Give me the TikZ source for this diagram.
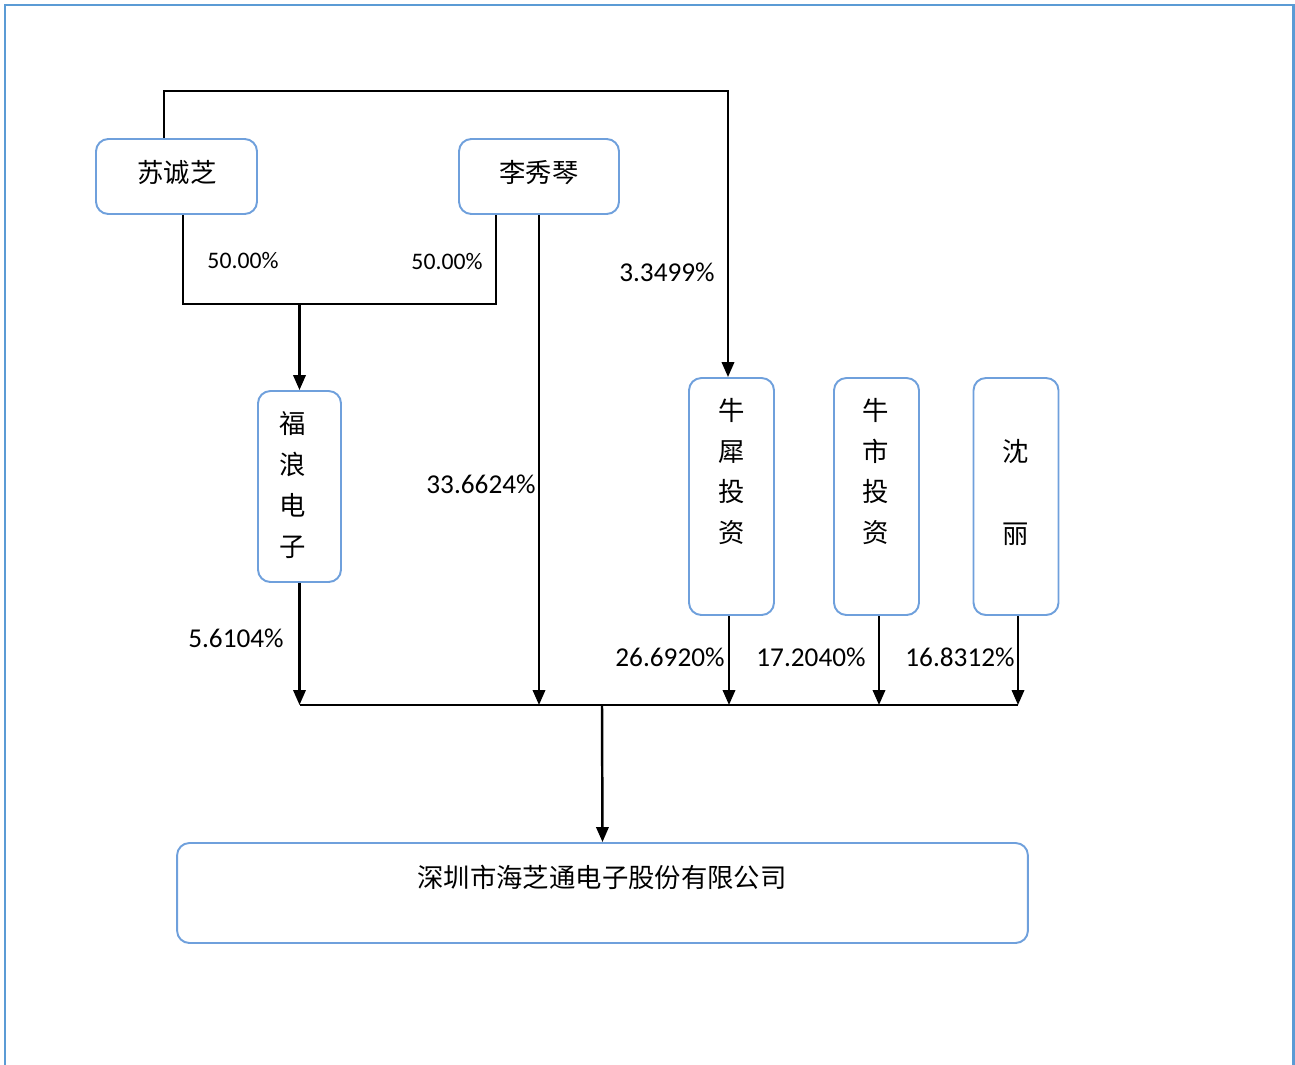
\documentclass[tikz,border=0pt]{standalone}
\usepackage{fontspec}
\setmainfont{Carlito}
\newfontfamily\cjk{Noto Sans CJK SC}
\usepackage{xcolor}
\usetikzlibrary{arrows.meta,positioning}
\definecolor{framebl}{RGB}{91,155,213}
\definecolor{boxbl}{RGB}{111,160,220}

\begin{document}
\begin{tikzpicture}
		[x=0.02cm,y=-0.02cm,
		hbox/.style={draw=boxbl,line width=1.1pt,rounded corners=7pt,font=\cjk\fontsize{15pt}{18pt}\selectfont,inner sep=0pt},
		vbox/.style={draw=boxbl,line width=1.1pt,rounded corners=7pt,minimum width=1.7cm,minimum height=4.74cm,inner sep=0pt},
		vtext/.style={align=center,inner sep=0pt,font=\cjk\fontsize{15pt}{23.2pt}\selectfont},
		link/.style={line width=1.4pt},
		arr/.style={line width=1.4pt,-{Triangle[length=8.5pt,width=7pt]}},
		pct/.style={inner sep=0pt,font=\fontsize{15.5pt}{18pt}\selectfont},
		half/.style={inner sep=0pt,font=\fontsize{13.5pt}{16pt}\selectfont}]
		\useasboundingbox (0,0) rectangle (1295,1065);
		% frame
		\draw[framebl,line width=1.7pt] (5,1065) -- (5,5) -- (1293,5) -- (1293,1065);
		% holders
		\node[hbox,minimum width=3.22cm,minimum height=1.5cm] (sc) at (176.5,176.5) {};
		\node[inner sep=0pt,font=\cjk\fontsize{15pt}{18pt}\selectfont] (sct) at (177,173) {苏诚芝};
		\node[hbox,minimum width=3.2cm,minimum height=1.5cm] (lq) at (539,176.5) {};
		\node[inner sep=0pt,font=\cjk\fontsize{15pt}{18pt}\selectfont] (lqt) at (539,173) {李秀琴};
		\node[vbox,minimum width=1.66cm,minimum height=3.82cm] (fl) at (299.5,486.5) {};
		\node[vtext] (flt) at (293,485) {福\\浪\\电\\子};
		\node[vbox] (nx) at (731.5,496.5) {};
		\node[vtext] (nxt) at (732,471.5) {牛\\犀\\投\\资};
		\node[vbox] (ns) at (876.5,496.5) {};
		\node[vtext] (nst) at (876,471.5) {牛\\市\\投\\资};
		\node[vbox] (sl) at (1016,496.5) {};
		\node[vtext] (slt) at (1016,492.5) {沈\\[23.2pt]丽};
		\node[hbox,minimum width=17.02cm,minimum height=2cm] (co) at (602.5,893) {};
		\node[inner sep=0pt,font=\cjk\fontsize{15pt}{18pt}\selectfont] (cot) at (602,877) {深圳市海芝通电子股份有限公司};
		% joints
		\coordinate (jn) at (299.5,304);
		\coordinate (bus) at (602,705);
		% connectors
		\draw[arr] ([xshift=-0.25cm]sc.north) -- ++(0,-47) -| ([xshift=-0.07cm]nx.north);
		\draw[link] ([xshift=0.13cm]sc.south) |- (jn) -| ([xshift=-0.86cm]lq.south);
		\draw[arr] (jn) -- (fl.north);
		\draw[arr] (lq.south) -- (lq.south |- bus);
		\draw[arr] (fl.south) -- (fl.south |- bus);
		\draw[arr] ([xshift=-0.05cm]nx.south) -- ([xshift=-0.05cm]nx.south |- bus);
		\draw[arr] ([xshift=0.05cm]ns.south) -- ([xshift=0.05cm]ns.south |- bus);
		\draw[arr] ([xshift=0.04cm]sl.south) -- ([xshift=0.04cm]sl.south |- bus);
		\draw[link] (fl.south |- bus) -- ([xshift=0.04cm]sl.south |- bus);
		\draw[arr] (bus) -- (co.north);
		% shares
		\node[half] (p1) at (243,261) {50.00\%};
		\node[half] (p2) at (447,262) {50.00\%};
		\node[pct] (p3) at (667,272) {3.3499\%};
		\node[pct] (p4) at (481,484) {33.6624\%};
		\node[pct] (p5) at (236,638) {5.6104\%};
		\node[pct] (p6) at (670,657) {26.6920\%};
		\node[pct] (p7) at (811,657) {17.2040\%};
		\node[pct] (p8) at (960,657) {16.8312\%};
\end{tikzpicture}
\end{document}
